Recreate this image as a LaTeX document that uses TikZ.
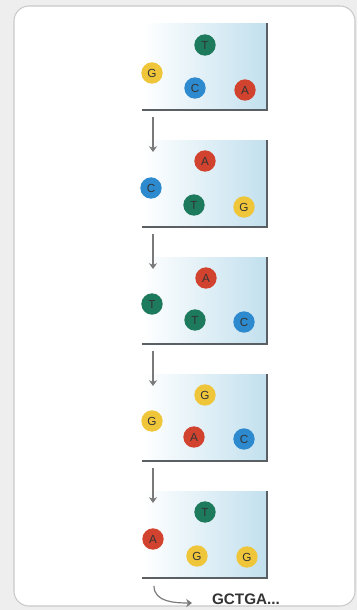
\documentclass[tikz,border=0pt]{standalone}
\usepackage{fontspec}
\setmainfont{Liberation Sans}
\usetikzlibrary{arrows.meta}
\definecolor{pagegrey}{HTML}{EEEEEE}
\definecolor{framegrey}{HTML}{C9C9C9}
\definecolor{panelblue}{HTML}{C2E0EE}
\definecolor{edgegrey}{HTML}{5A5F63}
\definecolor{arrowgrey}{HTML}{7A7A7A}
\definecolor{nucred}{HTML}{D2432F}
\definecolor{nucblue}{HTML}{2D8ACF}
\definecolor{nucyellow}{HTML}{EFC53A}
\definecolor{nucgreen}{HTML}{1D7A5C}
\tikzset{
  base/.style={circle,inner sep=0pt,minimum size=0.64cm,text=black!80,font=\fontsize{10}{10}\selectfont},
  baseA/.style={base,fill=nucred},
  baseC/.style={base,fill=nucblue},
  baseG/.style={base,fill=nucyellow},
  baseT/.style={base,fill=nucgreen},
  panelfill/.style={left color=white,right color=panelblue},
  paneledge/.style={draw=edgegrey,line width=1.1pt},
  steparrow/.style={draw=arrowgrey,line width=1.3pt,-{Stealth[length=5pt,width=7pt]}}
}
\begin{document}
\begin{tikzpicture}[x=0.03cm,y=-0.03cm]
          \fill[pagegrey] (0,0) rectangle (357,610);
          \filldraw[fill=white,draw=framegrey,line width=0.9pt,rounded corners=0.45cm] (14,6) rectangle (355,606);

          \fill[panelfill] (142,23) rectangle (267,110);
          \draw[paneledge] (142,110) -- (267,110) -- (267,23);
          \node[baseT] (t1) at (205,45) {T};
          \node[baseG] (g1) at (152,73) {G};
          \node[baseC] (c1) at (195,88) {C};
          \node[baseA] (a1) at (245,90) {A};

          \fill[panelfill] (142,140) rectangle (267,227);
          \draw[paneledge] (142,227) -- (267,227) -- (267,140);
          \node[baseA] (a2) at (205,161) {A};
          \node[baseC] (c2) at (151,188) {C};
          \node[baseT] (t2) at (194,205) {T};
          \node[baseG] (g2) at (244,207) {G};

          \fill[panelfill] (142,257) rectangle (267,344);
          \draw[paneledge] (142,344) -- (267,344) -- (267,257);
          \node[baseA] (a3) at (206,278) {A};
          \node[baseT] (t3) at (152,304) {T};
          \node[baseT] (tt3) at (195,320) {T};
          \node[baseC] (c3) at (244,322) {C};

          \fill[panelfill] (142,374) rectangle (267,461);
          \draw[paneledge] (142,461) -- (267,461) -- (267,374);
          \node[baseG] (g4) at (205,395) {G};
          \node[baseG] (gg4) at (152,421) {G};
          \node[baseA] (a4) at (194,437) {A};
          \node[baseC] (c4) at (244,439) {C};

          \fill[panelfill] (142,491) rectangle (267,578);
          \draw[paneledge] (142,578) -- (267,578) -- (267,491);
          \node[baseT] (t5) at (205,512) {T};
          \node[baseA] (a5) at (153,539) {A};
          \node[baseG] (g5) at (197,556) {G};
          \node[baseG] (gg5) at (247,557) {G};

          \coordinate (s1) at (153,117);
          \coordinate (e1) at (153,152);
          \draw[steparrow] (s1) -- (e1);
          \coordinate (s2) at (153,234);
          \coordinate (e2) at (153,269);
          \draw[steparrow] (s2) -- (e2);
          \coordinate (s3) at (153,351);
          \coordinate (e3) at (153,386);
          \draw[steparrow] (s3) -- (e3);
          \coordinate (s4) at (153,468);
          \coordinate (e4) at (153,503);
          \draw[steparrow] (s4) -- (e4);

          \node[anchor=west,font=\bfseries\fontsize{13}{13}\selectfont,text=black!80] (read) at (208,599) {GCTGA...};
          \coordinate (s5) at (154,586);
          \coordinate (e5) at (192,603);
          \draw[steparrow,line width=1pt] (s5) to[out=-90,in=180] (e5);
    \end{tikzpicture}
\end{document}
